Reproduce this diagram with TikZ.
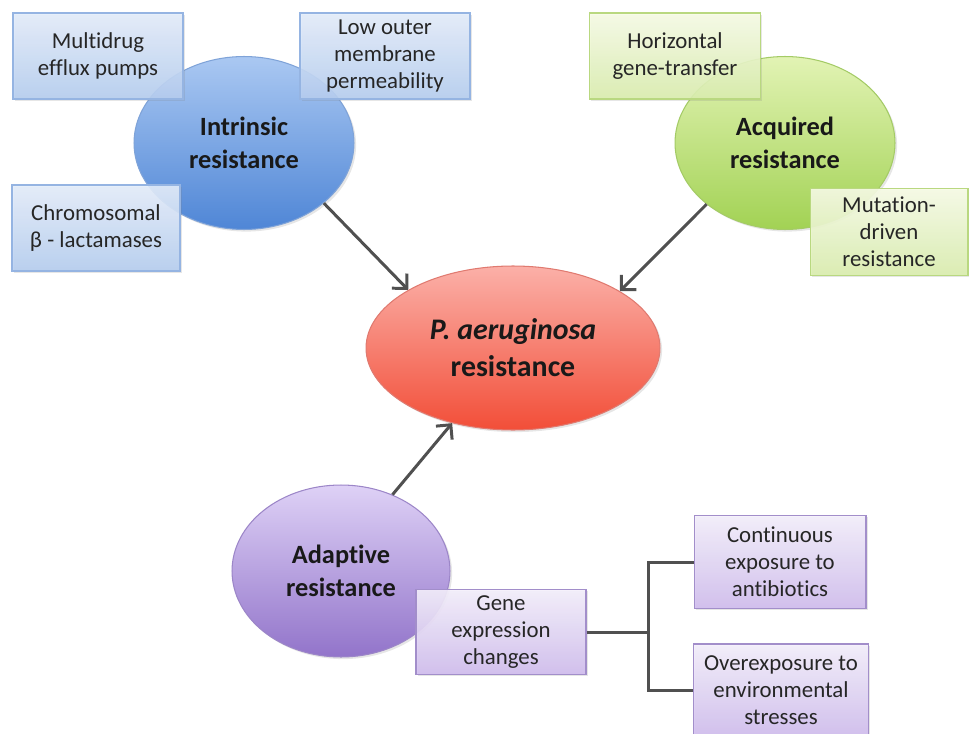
\documentclass[tikz,border=0pt]{standalone}
\usepackage{fontspec}
\setmainfont{Carlito}[Ligatures=NoCommon]
\usepackage{tikz}
\usetikzlibrary{arrows.meta}
\usetikzlibrary{shapes.geometric,shadows}

\definecolor{blueTop}{HTML}{AAC8F2}
\definecolor{blueBot}{HTML}{4F86D6}
\definecolor{blueLine}{HTML}{7FA3D8}
\definecolor{blueBoxTop}{HTML}{E4EDFA}
\definecolor{blueBoxBot}{HTML}{B5CDF0}
\definecolor{blueBoxLine}{HTML}{95B4E2}
\definecolor{greenTop}{HTML}{E2F3B4}
\definecolor{greenBot}{HTML}{A2D254}
\definecolor{greenLine}{HTML}{A4CB66}
\definecolor{greenBoxTop}{HTML}{F7FBE6}
\definecolor{greenBoxBot}{HTML}{DAEEAE}
\definecolor{greenBoxLine}{HTML}{B9D880}
\definecolor{redTop}{HTML}{FBB0A8}
\definecolor{redBot}{HTML}{F24E38}
\definecolor{redLine}{HTML}{E07A70}
\definecolor{purpTop}{HTML}{DED1F6}
\definecolor{purpBot}{HTML}{9274CA}
\definecolor{purpLine}{HTML}{9C86C8}
\definecolor{purpBoxTop}{HTML}{F4EFFB}
\definecolor{purpBoxBot}{HTML}{CFBCEE}
\definecolor{purpBoxLine}{HTML}{A28ECA}
\definecolor{linkgray}{HTML}{505050}

\begin{document}
\begin{tikzpicture}[x=0.02cm,y=-0.02cm,
    oval/.style={ellipse, draw, line width=0.6pt, minimum width=4.4cm, minimum height=3.46cm,
        align=center, font=\fontsize{15}{18.5}\selectfont\bfseries, text=black!90,
        drop shadow={opacity=0.2, shadow xshift=1.2pt, shadow yshift=-1.2pt}},
    box/.style={rectangle, draw, line width=0.6pt, minimum width=3.4cm, minimum height=1.72cm,
        align=center, font=\fontsize{13}{15.4}\selectfont, text=black!85, fill opacity=0.9, text opacity=1,
        drop shadow={opacity=0.2, shadow xshift=1pt, shadow yshift=-1pt}},
    bluebox/.style={box, top color=blueBoxTop, bottom color=blueBoxBot, draw=blueBoxLine},
    greenbox/.style={box, top color=greenBoxTop, bottom color=greenBoxBot, draw=greenBoxLine},
    purpbox/.style={box, top color=purpBoxTop, bottom color=purpBoxBot, draw=purpBoxLine},
    link/.style={draw=linkgray, line width=1.7pt},
    arr/.style={link, -{Straight Barb[length=6pt, width=12pt, line width=1.7pt]}}]

    \useasboundingbox (0,0) rectangle (969,733);

    % the four ovals
    \node[oval, top color=blueTop, bottom color=blueBot, draw=blueLine] (intr) at (244,143) {Intrinsic\\resistance};
    \node[oval, top color=greenTop, bottom color=greenBot, draw=greenLine] (acq) at (785,143) {Acquired\\resistance};
    \node[oval, top color=purpTop, bottom color=purpBot, draw=purpLine, minimum width=4.36cm, minimum height=3.44cm] (adap) at (341,571) {Adaptive\\resistance};
    \node[oval, top color=redTop, bottom color=redBot, draw=redLine, minimum width=5.88cm, minimum height=3.28cm,
        font=\fontsize{17}{21}\selectfont\bfseries] (pae) at (513,348) {\textit{P. aeruginosa}\\resistance};

    % boxes
    \node[bluebox] (mdr) at (98,56) {Multidrug\\efflux pumps};
    \node[bluebox] (lom) at (385,56) {Low outer\\membrane\\permeability};
    \node[bluebox, minimum width=3.36cm] (chr) at (96,228) {Chromosomal\\ β - lactamases};
    \node[greenbox, minimum width=3.42cm] (hgt) at (675,56) {Horizontal\\gene-transfer};
    \node[greenbox, minimum width=3.16cm, minimum height=1.74cm] (mut) at (889,232) {Mutation-\\driven\\resistance};
    \node[purpbox, minimum height=1.7cm] (gene) at (501,632) {Gene\\expression\\changes};
    \node[purpbox, minimum width=3.44cm, minimum height=1.86cm] (cont) at (780,562) {Continuous\\exposure to\\antibiotics};
    \node[purpbox, minimum width=3.5cm, minimum height=1.84cm] (over) at (781,690) {Overexposure to\\environmental\\stresses};

    % arrows into the centre
    \draw[arr] (intr.-37) -- (pae.151);
    \draw[arr] (acq.-142) -- (pae.28);
    \draw[arr] (adap.56) -- (pae.-129);

    % fork
    \draw[link] (gene.east) -- ++(62,0) coordinate (fork);
    \draw[link] (cont.west) -| (fork);
    \draw[link] (over.west) -| (fork);
\end{tikzpicture}
\end{document}
